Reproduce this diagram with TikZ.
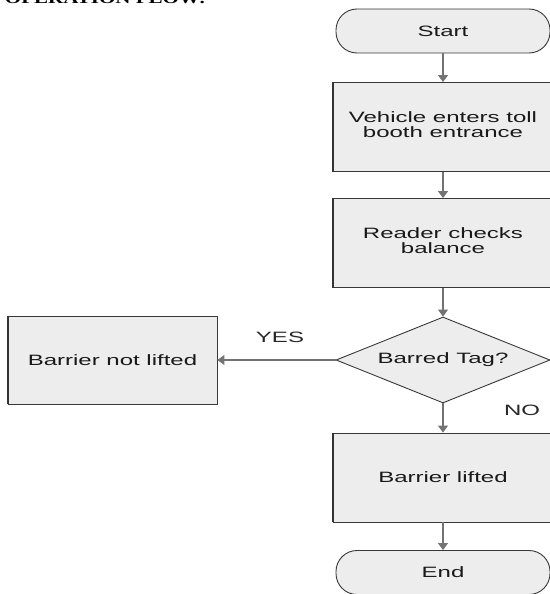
\documentclass[tikz,border=0pt]{standalone}
\usepackage{fontspec}
\setmainfont{Liberation Sans}
\newfontfamily\headfont{Liberation Serif}
\usetikzlibrary{shapes.geometric,arrows.meta}
% horizontally widened lettering used throughout the chart
\newcommand\wide[1]{\scalebox{1.6}[1]{#1}}
\newcommand\twolines[2]{\wide{\begin{tabular}{@{}c@{}}#1\\#2\end{tabular}}}

\begin{document}
\begin{tikzpicture}[x=1pt,y=-1pt,
  every node/.style={font=\fontsize{15}{15.7}\selectfont, text=black!90},
  shapeline/.style={draw=black!78, fill=black!7, line width=0.9pt, inner sep=0pt},
  procbox/.style={shapeline, rectangle, minimum width=220pt, minimum height=89pt},
  sidebox/.style={shapeline, rectangle, minimum width=209pt, minimum height=88pt},
  terminal/.style={shapeline, rectangle, rounded corners=21pt, minimum width=214pt, minimum height=44pt},
  decision/.style={shapeline, diamond, aspect=2.5, minimum width=214pt, minimum height=86pt},
  leftedge/.style={draw=black!80, line width=2pt},
  flow/.style={draw=black!55, line width=1.4pt, -{Triangle[width=10pt,length=7pt]}},
  tag/.style={inner sep=0pt, text=black!85}
]
\useasboundingbox (0,0) rectangle (549,594);

% section heading (runs off the top edge)
\node[anchor=base east, inner sep=0pt, text=black,
      font=\headfont\bfseries\fontsize{15}{15}\selectfont] (head) at (206,4)
  {\scalebox{1.4}[1]{OPERATION FLOW:}};

% flowchart nodes
\node[terminal] (start) at (443,31) {\wide{Start}};
\node[procbox]  (veh)   at (443,127) {\twolines{Vehicle enters toll}{booth entrance}};
\node[procbox]  (read)  at (443,243) {\twolines{Reader checks}{balance}};
\node[decision] (dec)   at (443,360) {\wide{Barred Tag?}};
\node[sidebox]  (nolift) at (112.5,360) {\wide{Barrier not lifted}};
\node[procbox]  (lift)  at (443,477.5) {\wide{Barrier lifted}};
\node[terminal] (stop)  at (443,572.5) {\wide{End}};

% heavier left borders on the process boxes
\foreach \n in {veh,read,nolift,lift}
  \draw[leftedge] (\n.north west) -- (\n.south west);

% connectors
\draw[flow] (start) -- (veh);
\draw[flow] (veh) -- (read);
\draw[flow] (read) -- (dec);
\draw[flow] (dec) -- (nolift);
\draw[flow] (dec) -- (lift);
\draw[flow] (lift) -- (stop);

% branch labels
\node[tag] (yes) at (280,337) {\wide{YES}};
\node[tag] (no)  at (522,410) {\wide{NO}};
\end{tikzpicture}
\end{document}
